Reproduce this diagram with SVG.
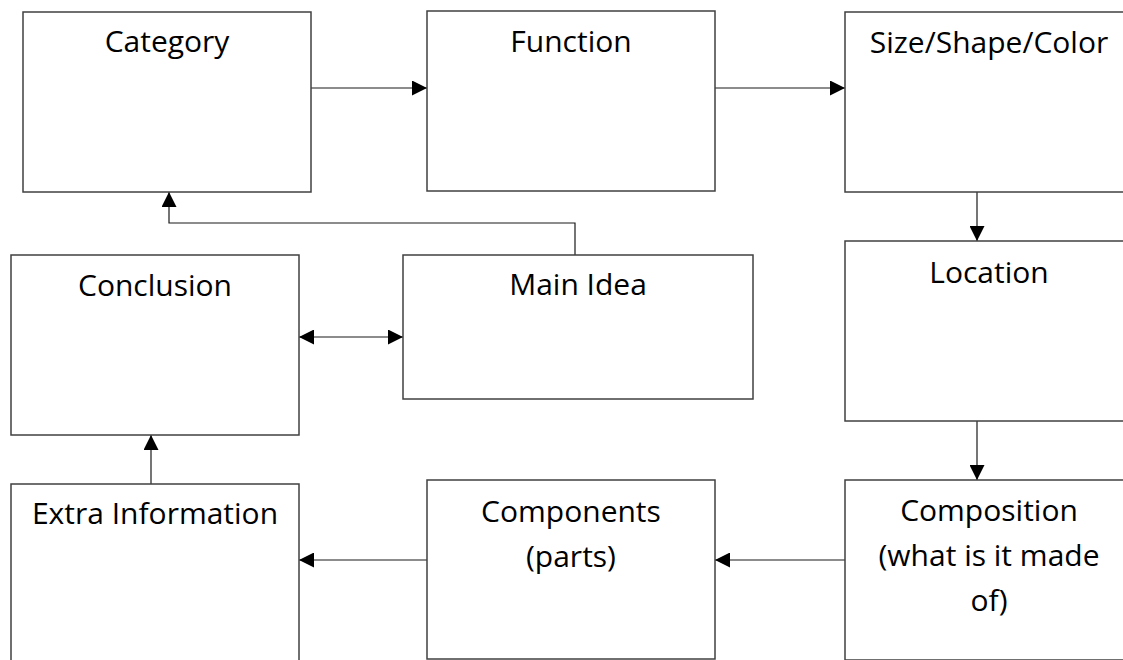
<svg xmlns="http://www.w3.org/2000/svg" width="1123" height="660" viewBox="0 0 1123 660">
  <style>
    .box { fill: #ffffff; stroke: #404040; stroke-width: 1.5; }
    .lbl { font-family: "Open Sans", "Noto Sans", "DejaVu Sans", sans-serif; font-size: 30px; fill: #000000; text-anchor: middle; }
    .conn { fill: none; stroke: #1a1a1a; stroke-width: 1.2; }
  </style>
  <defs>
    <marker id="arrow" viewBox="0 0 15 15" refX="15" refY="7.5" markerWidth="15" markerHeight="15" markerUnits="userSpaceOnUse" orient="auto-start-reverse">
      <path d="M0,0 L15,7.5 L0,15 Z" fill="#000000"/>
    </marker>
  </defs>

  <rect x="0" y="0" width="1123" height="660" fill="#ffffff"/>

  <!-- connectors -->
  <g id="connectors">
    <line class="conn" x1="311" y1="88" x2="427" y2="88" marker-end="url(#arrow)"/>
    <line class="conn" x1="715" y1="88" x2="845" y2="88" marker-end="url(#arrow)"/>
    <line class="conn" x1="977" y1="192" x2="977" y2="241" marker-end="url(#arrow)"/>
    <line class="conn" x1="977" y1="421" x2="977" y2="480" marker-end="url(#arrow)"/>
    <line class="conn" x1="845" y1="560" x2="715" y2="560" marker-end="url(#arrow)"/>
    <line class="conn" x1="427" y1="560" x2="299" y2="560" marker-end="url(#arrow)"/>
    <line class="conn" x1="151" y1="484" x2="151" y2="435" marker-end="url(#arrow)"/>
    <path class="conn" d="M575,255 V223 H169 V192" marker-end="url(#arrow)"/>
    <line class="conn" x1="299" y1="337" x2="403" y2="337" marker-start="url(#arrow)" marker-end="url(#arrow)"/>
  </g>

  <!-- nodes -->
  <g id="category">
    <rect class="box" x="23" y="12" width="288" height="180"/>
    <text class="lbl" x="167" y="52">Category</text>
  </g>
  <g id="function">
    <rect class="box" x="427" y="11" width="288" height="180"/>
    <text class="lbl" x="571" y="52">Function</text>
  </g>
  <g id="size-shape-color">
    <rect class="box" x="845" y="12" width="288" height="180"/>
    <text class="lbl" x="989" y="53">Size/Shape/Color</text>
  </g>
  <g id="location">
    <rect class="box" x="845" y="241" width="288" height="180"/>
    <text class="lbl" x="989" y="283">Location</text>
  </g>
  <g id="composition">
    <rect class="box" x="845" y="480" width="288" height="180"/>
    <text class="lbl" x="989" y="521">Composition</text>
    <text class="lbl" x="989" y="566">(what is it made</text>
    <text class="lbl" x="989" y="611">of)</text>
  </g>
  <g id="components">
    <rect class="box" x="427" y="480" width="288" height="179"/>
    <text class="lbl" x="571" y="522">Components</text>
    <text class="lbl" x="571" y="567">(parts)</text>
  </g>
  <g id="extra-information">
    <rect class="box" x="11" y="484" width="288" height="180"/>
    <text class="lbl" x="155" y="524">Extra Information</text>
  </g>
  <g id="conclusion">
    <rect class="box" x="11" y="255" width="288" height="180"/>
    <text class="lbl" x="155" y="296">Conclusion</text>
  </g>
  <g id="main-idea">
    <rect class="box" x="403" y="255" width="350" height="144"/>
    <text class="lbl" x="578" y="295">Main Idea</text>
  </g>
</svg>
